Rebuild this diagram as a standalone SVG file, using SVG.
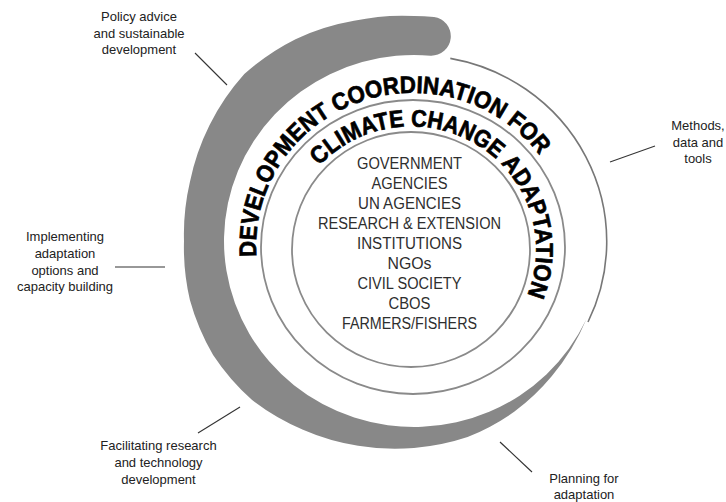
<svg xmlns="http://www.w3.org/2000/svg" width="726" height="502" viewBox="0 0 726 502">
<defs>
<style>
.ring{fill:none;stroke:#8a8a8a;stroke-width:1.8}
.thin{fill:none;stroke:#777;stroke-width:1.6}
.band{fill:#888888;stroke:none}
.arc{font-family:"Liberation Sans",Arial,sans-serif;font-weight:bold;font-size:24px;fill:#000;stroke:#000;stroke-width:0.7}
.list{font-family:"Liberation Sans",Arial,sans-serif;font-size:16px;fill:#2e2e2e;text-anchor:middle}
.lbl{font-family:"Liberation Sans",Arial,sans-serif;font-size:13px;fill:#222;text-anchor:middle}
.ptr{stroke:#333;stroke-width:1.1;fill:none}
</style>
<path id="p1" d="M 256.4 256.7 A 157 153 0 0 1 540.7 156.9"/>
<path id="p2" d="M 319.3 165.9 A 125 123 0 0 1 526.6 296.4"/>
</defs>
<rect width="726" height="502" fill="#fff"/>
<g id="spiral">
<path class="band" d="M 586.2 319.6 A 200 200 0 0 1 571.3 348.8 A 210 210 0 0 1 551.9 376.1 A 215 215 0 0 1 514.5 411.6 A 220 220 0 0 1 467.6 437.1 A 225 225 0 0 1 414 448 A 225 225 0 0 1 358.1 445.8 A 225 225 0 0 1 303 429.8 A 228 228 0 0 1 252.1 400.1 A 230 230 0 0 1 213.1 355 A 230 230 0 0 1 189.9 300 A 230 230 0 0 1 184 241 A 230 230 0 0 1 189.9 182 A 230 230 0 0 1 209.6 125 A 230 230 0 0 1 244.3 74.1 A 230 230 0 0 1 295.5 39.2 A 230 230 0 0 1 354 20.8 A 228 228 0 0 1 414 16 A 228 228 0 0 1 434 16.9 A 19.5 19.5 0 0 1 430.6 55.7 A 190 186 0 1 0 586.2 319.6 Z"/>
<path class="thin" d="M 450.3 58.4 A 190 186 0 0 1 588 322"/>
</g>
<g id="rings">
<ellipse class="ring" cx="413" cy="247" rx="152" ry="147"/>
<ellipse class="ring" cx="411" cy="249.5" rx="119" ry="117.5"/>
</g>
<g id="ring-titles">
<text class="arc"><textPath href="#p1" startOffset="0" textLength="168" lengthAdjust="spacingAndGlyphs">DEVELOPMENT</textPath></text>
<text class="arc"><textPath href="#p1" startOffset="174.2" textLength="173" lengthAdjust="spacingAndGlyphs">COORDINATION</textPath></text>
<text class="arc"><textPath href="#p1" startOffset="353.4" textLength="46.6" lengthAdjust="spacingAndGlyphs">FOR</textPath></text>
<text class="arc"><textPath href="#p2" startOffset="0" textLength="96.2" lengthAdjust="spacingAndGlyphs">CLIMATE</textPath></text>
<text class="arc"><textPath href="#p2" startOffset="102.2" textLength="93.8" lengthAdjust="spacingAndGlyphs">CHANGE</textPath></text>
<text class="arc"><textPath href="#p2" startOffset="202" textLength="142" lengthAdjust="spacingAndGlyphs">ADAPTATION</textPath></text>
</g>
<g id="actors">
<text class="list" x="409.5" y="169" textLength="105" lengthAdjust="spacingAndGlyphs">GOVERNMENT</text>
<text class="list" x="409.5" y="189" textLength="76" lengthAdjust="spacingAndGlyphs">AGENCIES</text>
<text class="list" x="409.5" y="209" textLength="103" lengthAdjust="spacingAndGlyphs">UN AGENCIES</text>
<text class="list" x="409.5" y="229" textLength="183" lengthAdjust="spacingAndGlyphs">RESEARCH &amp; EXTENSION</text>
<text class="list" x="409.5" y="249" textLength="105" lengthAdjust="spacingAndGlyphs">INSTITUTIONS</text>
<text class="list" x="409.5" y="269" textLength="44" lengthAdjust="spacingAndGlyphs">NGOs</text>
<text class="list" x="409.5" y="289" textLength="104" lengthAdjust="spacingAndGlyphs">CIVIL SOCIETY</text>
<text class="list" x="409.5" y="309" textLength="42" lengthAdjust="spacingAndGlyphs">CBOS</text>
<text class="list" x="409.5" y="329" textLength="135" lengthAdjust="spacingAndGlyphs">FARMERS/FISHERS</text>
</g>
<g id="connectors">
<line class="ptr" x1="195" y1="53" x2="227" y2="85"/>
<line class="ptr" x1="115" y1="267" x2="165" y2="267"/>
<line class="ptr" x1="198" y1="433" x2="240" y2="407"/>
<line class="ptr" x1="500" y1="442" x2="532" y2="472"/>
<line class="ptr" x1="610" y1="162" x2="655" y2="146"/>
</g>
<g id="label-policy">
<text class="lbl" x="139" y="21">Policy advice</text>
<text class="lbl" x="139" y="38">and sustainable</text>
<text class="lbl" x="139" y="54">development</text>
</g>
<g id="label-implementing">
<text class="lbl" x="65" y="241">Implementing</text>
<text class="lbl" x="65" y="258">adaptation</text>
<text class="lbl" x="65" y="274.5">options and</text>
<text class="lbl" x="65" y="291">capacity building</text>
</g>
<g id="label-facilitating">
<text class="lbl" x="158.5" y="450">Facilitating research</text>
<text class="lbl" x="158.5" y="467">and technology</text>
<text class="lbl" x="158.5" y="483.5">development</text>
</g>
<g id="label-planning">
<text class="lbl" x="584" y="483">Planning for</text>
<text class="lbl" x="584" y="499">adaptation</text>
</g>
<g id="label-methods">
<text class="lbl" x="698" y="130">Methods,</text>
<text class="lbl" x="698" y="147">data and</text>
<text class="lbl" x="698" y="163">tools</text>
</g>
</svg>
